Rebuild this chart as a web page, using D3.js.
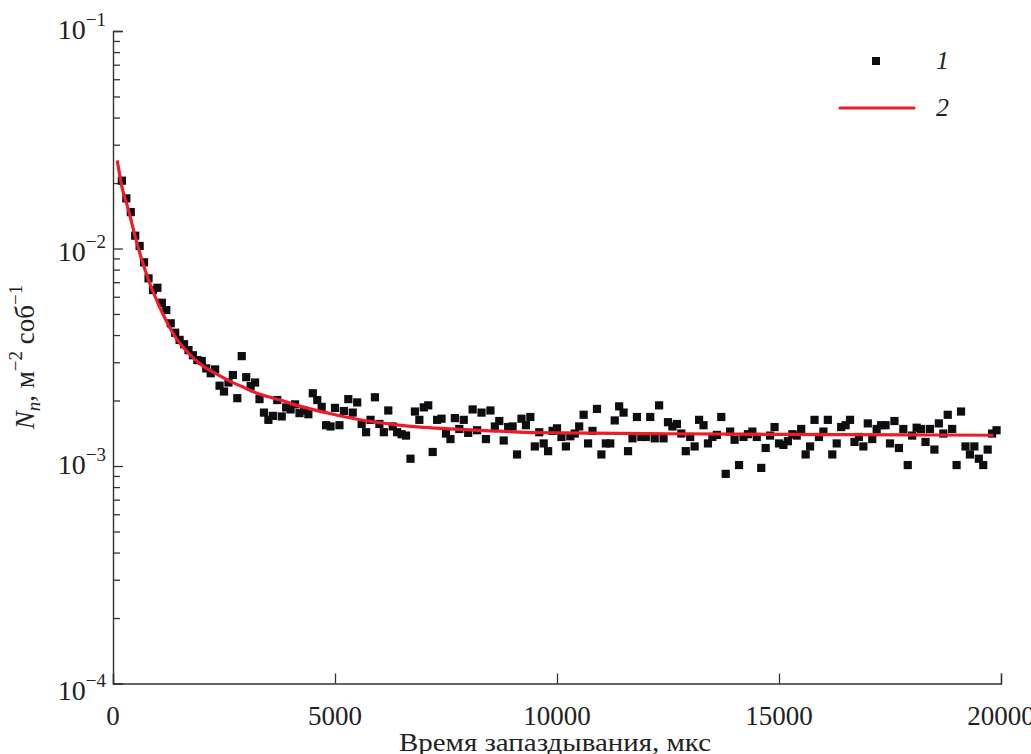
<!DOCTYPE html>
<html>
<head>
<meta charset="utf-8">
<script src="https://cdn.jsdelivr.net/npm/d3@7"></script>
<style>
  html, body { margin: 0; padding: 0; background: #fff; }
  svg { display: block; }
  text { font-family: "Liberation Serif", "DejaVu Serif", serif; fill: #222; }
</style>
</head>
<body>
<svg id="chart" width="1031" height="754"></svg>
<script>
// Measured neutron count rate vs. delay time (series 1, squares)
const delayTimes = [
  200, 300, 400, 500, 600, 700, 800, 900, 1000, 1100,
  1200, 1300, 1400, 1500, 1600, 1700, 1800, 1900, 2000, 2100,
  2200, 2300, 2400, 2500, 2600, 2700, 2800, 2900, 3000, 3100,
  3200, 3300, 3400, 3500, 3600, 3700, 3800, 3900, 4000, 4100,
  4200, 4300, 4400, 4500, 4600, 4700, 4800, 4900, 5000, 5100,
  5200, 5300, 5400, 5500, 5600, 5700, 5800, 5900, 6000, 6100,
  6200, 6300, 6400, 6500, 6600, 6700, 6800, 6900, 7000, 7100,
  7200, 7300, 7400, 7500, 7600, 7700, 7800, 7900, 8000, 8100,
  8200, 8300, 8400, 8500, 8600, 8700, 8800, 8900, 9000, 9100,
  9200, 9300, 9400, 9500, 9600, 9700, 9800, 9900, 10000, 10100,
  10200, 10300, 10400, 10500, 10600, 10700, 10800, 10900, 11000, 11100,
  11200, 11300, 11400, 11500, 11600, 11700, 11800, 11900, 12000, 12100,
  12200, 12300, 12400, 12500, 12600, 12700, 12800, 12900, 13000, 13100,
  13200, 13300, 13400, 13500, 13600, 13700, 13800, 13900, 14000, 14100,
  14200, 14300, 14400, 14500, 14600, 14700, 14800, 14900, 15000, 15100,
  15200, 15300, 15400, 15500, 15600, 15700, 15800, 15900, 16000, 16100,
  16200, 16300, 16400, 16500, 16600, 16700, 16800, 16900, 17000, 17100,
  17200, 17300, 17400, 17500, 17600, 17700, 17800, 17900, 18000, 18100,
  18200, 18300, 18400, 18500, 18600, 18700, 18800, 18900, 19000, 19100,
  19200, 19300, 19400, 19500, 19600, 19700, 19800, 19900
];

const countRate = [
  0.0205, 0.0170, 0.0147, 0.01145, 0.01027, 0.00864, 0.00729, 0.00644, 0.00660, 0.00563,
  0.00521, 0.00453, 0.00410, 0.00380, 0.00363, 0.00341, 0.00323, 0.00307, 0.00304, 0.00281,
  0.00267, 0.00278, 0.00234, 0.00220, 0.00242, 0.00262, 0.00205, 0.00320, 0.00256, 0.00233,
  0.00242, 0.00203, 0.00176, 0.00163, 0.00170, 0.00201, 0.00169, 0.00186, 0.00182, 0.00192,
  0.00175, 0.00180, 0.00173, 0.00216, 0.00201, 0.00187, 0.00154, 0.00152, 0.00185, 0.00154,
  0.00179, 0.00203, 0.00176, 0.00196, 0.00156, 0.00143, 0.00163, 0.00207, 0.00156, 0.00143,
  0.00180, 0.00152, 0.00143, 0.00140, 0.00138, 0.00108, 0.00178, 0.00163, 0.00186, 0.00190,
  0.00116, 0.00163, 0.00165, 0.00141, 0.00133, 0.00166, 0.00148, 0.00163, 0.00142, 0.00182,
  0.00146, 0.00176, 0.00133, 0.00180, 0.00152, 0.00161, 0.00131, 0.00151, 0.00152, 0.00113,
  0.00165, 0.00154, 0.00168, 0.00123, 0.00143, 0.00127, 0.00117, 0.00145, 0.00149, 0.00136,
  0.00123, 0.00137, 0.00141, 0.00152, 0.00172, 0.00127, 0.00145, 0.00183, 0.00113, 0.00127,
  0.00127, 0.00162, 0.00188, 0.00176, 0.00117, 0.00134, 0.00168, 0.00136, 0.00136, 0.00168,
  0.00134, 0.00190, 0.00134, 0.00159, 0.00152, 0.00156, 0.00141, 0.00117, 0.00136, 0.00123,
  0.00163, 0.00154, 0.00127, 0.00136, 0.00139, 0.00168, 0.00092, 0.00144, 0.00132, 0.00101,
  0.00136, 0.00140, 0.00144, 0.00136, 0.00098, 0.00121, 0.00138, 0.00151, 0.00127, 0.00125,
  0.00130, 0.00140, 0.00138, 0.00148, 0.00113, 0.00123, 0.00163, 0.00136, 0.00144, 0.00163,
  0.00113, 0.00127, 0.00151, 0.00154, 0.00163, 0.00129, 0.00136, 0.00123, 0.00157, 0.00133,
  0.00148, 0.00154, 0.00154, 0.00127, 0.00161, 0.00121, 0.00148, 0.00101, 0.00138, 0.00150,
  0.00148, 0.00129, 0.00148, 0.00119, 0.00157, 0.00141, 0.00172, 0.00148, 0.00101, 0.00178,
  0.00123, 0.00113, 0.00123, 0.00108, 0.00101, 0.00119, 0.00141, 0.00146
];

// Fitted decay curve (series 2, red line)
const fitTimes = [
  100, 200, 350, 500, 650, 800, 950, 1100, 1250, 1400,
  1700, 2000, 2300, 2600, 2900, 3200, 3500, 3800, 4100, 4400,
  4850, 5500, 6300, 7000, 7800, 8600, 9300, 10100, 12000, 14000,
  16000, 18000, 19800
];
const fitRate = [
  0.02506, 0.01924, 0.01503, 0.01133, 0.00885, 0.00717, 0.00600, 0.00512, 0.00445, 0.00393,
  0.00330, 0.00291, 0.00267, 0.00247, 0.00232, 0.00218, 0.00208, 0.00200, 0.00191, 0.00184,
  0.00175, 0.00164, 0.001555, 0.001506, 0.001475, 0.001448, 0.001429, 0.00142, 0.00141, 0.00140,
  0.001395, 0.00139, 0.001385
];

const xTicks = [0, 5000, 10000, 15000, 20000];
const yDecades = [1e-4, 1e-3, 1e-2, 1e-1];
const yTickExponents = ["−4", "−3", "−2", "−1"];
const legendLabels = ["1", "2"];

const svg = d3.select("#chart");

const x = d3.scaleLinear().domain([0, 20000]).range([113, 1001]);
const y = d3.scaleLog().domain([1e-4, 1e-1]).range([683.5, 31]);

const axisColor = "#333";

// Minor log ticks (2..9 within each decade)
const minorTicks = [];
yDecades.slice(0, 3).forEach(d => { for (let k = 2; k <= 9; k++) minorTicks.push(d * k); });

const yMinor = svg.append("g")
  .attr("transform", `translate(${x(0)},0)`)
  .call(d3.axisLeft(y).tickValues(minorTicks).tickSize(-7).tickFormat(""));
const yMajor = svg.append("g")
  .attr("transform", `translate(${x(0)},0)`)
  .call(d3.axisLeft(y).tickValues(yDecades).tickSize(-10).tickFormat(""));

const xAxis = svg.append("g")
  .attr("transform", `translate(0,${y(1e-4)})`)
  .call(d3.axisBottom(x).tickValues(xTicks).tickSize(-10).tickFormat(""));

[yMinor, yMajor, xAxis].forEach(g => {
  g.selectAll("path.domain").attr("stroke", axisColor).attr("stroke-width", 1.4);
  g.selectAll(".tick line").attr("stroke", axisColor).attr("stroke-width", 1.3);
});
yMinor.select("path.domain").remove();

// x tick labels
svg.append("g").selectAll("text")
  .data(xTicks)
  .join("text")
  .attr("x", d => x(d))
  .attr("y", 725)
  .attr("text-anchor", "middle")
  .style("font-size", "27px")
  .text(d => d);

// y tick labels as powers of ten; the lowest one sits a little lower, clear of the x axis
const yLab = svg.append("g").selectAll("text")
  .data(yDecades)
  .join("text")
  .attr("x", 106)
  .attr("y", d => y(d) + 8 + (d === 1e-4 ? 8 : d === 1e-2 ? 4 : 0))
  .attr("text-anchor", "end")
  .style("font-size", "28px");
yLab.append("tspan").text("10");
yLab.append("tspan")
  .attr("dy", -13)
  .style("font-size", "19px")
  .text((d, i) => yTickExponents[i]);

// axis titles
svg.append("text")
  .attr("x", 555)
  .attr("y", 751)
  .attr("text-anchor", "middle")
  .attr("textLength", 312)
  .attr("lengthAdjust", "spacingAndGlyphs")
  .style("font-size", "25px")
  .text("Время запаздывания, мкс");

const yTitle = svg.append("text")
  .attr("transform", "translate(34,357) rotate(-90)")
  .attr("text-anchor", "middle")
  .style("font-size", "27px");
yTitle.append("tspan").style("font-style", "italic").text("N");
yTitle.append("tspan").attr("dy", 6).style("font-style", "italic").style("font-size", "19px").text("n");
yTitle.append("tspan").attr("dy", -6).text(", м");
yTitle.append("tspan").attr("dy", -12).style("font-size", "19px").text("−2");
yTitle.append("tspan").attr("dy", 12).text(" соб");
yTitle.append("tspan").attr("dy", -12).style("font-size", "19px").text("−1");

// data squares
const sq = 8.2;
svg.append("g").selectAll("rect")
  .data(delayTimes.map((t, i) => [t, countRate[i]]))
  .join("rect")
  .attr("x", d => x(d[0]) - sq / 2)
  .attr("y", d => y(d[1]) - sq / 2)
  .attr("width", sq)
  .attr("height", sq)
  .attr("fill", "#0d0d12");

// fitted curve
const line = d3.line()
  .x(d => x(d[0]))
  .y(d => y(d[1]))
  .curve(d3.curveMonotoneX);
svg.append("path")
  .datum(fitTimes.map((t, i) => [t, fitRate[i]]))
  .attr("d", line)
  .attr("fill", "none")
  .attr("stroke", "#ec1c2a")
  .attr("stroke-width", 3.2)
  .attr("stroke-linecap", "round");

// legend
const leg = svg.append("g");
leg.append("rect").attr("x", 872).attr("y", 57).attr("width", 8).attr("height", 8).attr("fill", "#0d0d12");
leg.append("line").attr("x1", 840).attr("x2", 914).attr("y1", 108).attr("y2", 108)
  .attr("stroke", "#ec1c2a").attr("stroke-width", 3.2).attr("stroke-linecap", "round");
leg.selectAll("text.lab")
  .data(legendLabels)
  .join("text")
  .attr("class", "lab")
  .attr("x", 936)
  .attr("y", (d, i) => 69 + i * 47)
  .style("font-size", "26px")
  .style("font-style", "italic")
  .text(d => d);
</script>
</body>
</html>
